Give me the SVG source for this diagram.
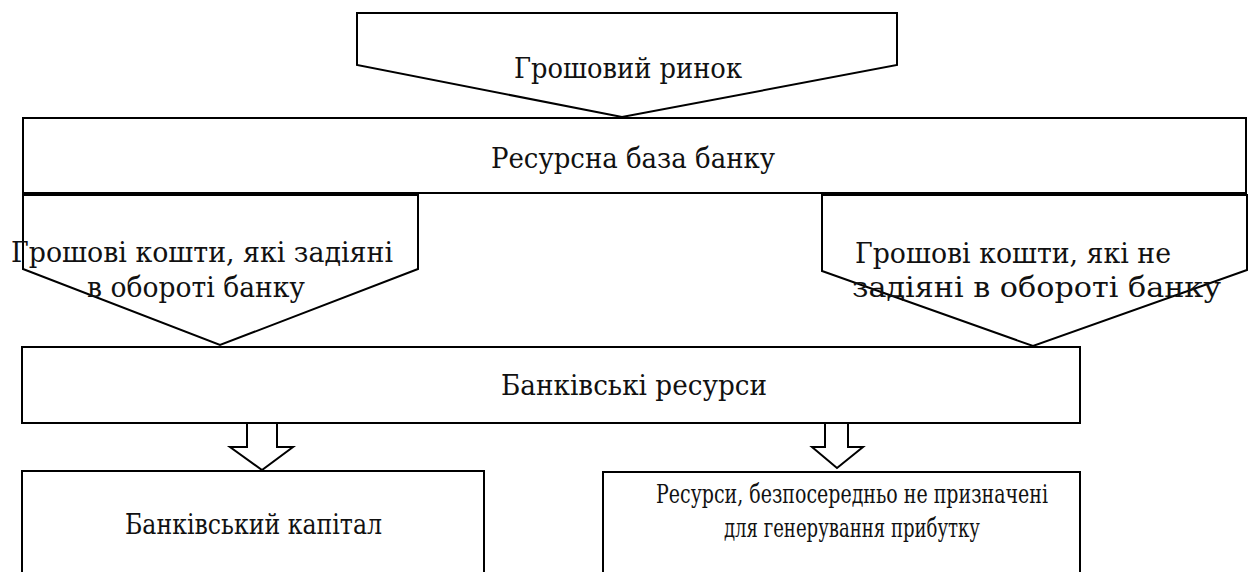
<svg xmlns="http://www.w3.org/2000/svg" width="1249" height="572" viewBox="0 0 1249 572">
<style>
.shape{fill:#fff;stroke:#000;stroke-width:2;stroke-linejoin:miter}
.arrow{fill:#fff;stroke:#000;stroke-width:2}
.t{font-family:'DejaVu Serif Condensed','DejaVu Serif',serif;font-stretch:condensed;font-size:27px;fill:#111}
.sm{font-family:'DejaVu Serif Condensed','DejaVu Serif',serif;font-stretch:condensed;font-size:26px;fill:#111;text-anchor:middle}
</style>
<rect width="1249" height="572" fill="#fff"/>
<g id="resource-base">
<rect class="shape" x="23" y="118" width="1223" height="75"/>
<text class="t" x="491" y="168" textLength="284" lengthAdjust="spacingAndGlyphs">Ресурсна база банку</text>
</g>
<g id="money-market">
<polygon class="shape" points="357,13 897,13 897,65 622,117 357,65"/>
<text class="t" x="514" y="78" textLength="228" lengthAdjust="spacingAndGlyphs">Грошовий ринок</text>
</g>
<g id="funds-in-turnover">
<polygon class="shape" points="23,195 418,195 418,269 220,345 23,269"/>
<text class="t" x="11" y="262" textLength="382" lengthAdjust="spacingAndGlyphs">Грошові кошти, які задіяні</text>
<text class="t" x="87" y="297" textLength="218" lengthAdjust="spacingAndGlyphs">в обороті банку</text>
</g>
<g id="funds-not-in-turnover">
<polygon class="shape" points="822,195 1247,195 1247,270 1033,346 822,271"/>
<text class="t" x="855" y="263" textLength="316" lengthAdjust="spacingAndGlyphs">Грошові кошти, які не</text>
<text class="t" x="852" y="297" textLength="369" lengthAdjust="spacingAndGlyphs">задіяні в обороті банку</text>
</g>
<g id="bank-resources">
<rect class="shape" x="22" y="347" width="1058" height="76"/>
<text class="t" x="501" y="395" textLength="266" lengthAdjust="spacingAndGlyphs">Банківські ресурси</text>
</g>
<g id="connectors">
<polygon class="arrow" points="247,423 277,423 277,447 293,447 262,470 230,447 247,447"/>
<polygon class="arrow" points="825,423 848,423 848,447 863,447 837,468 812,447 825,447"/>
</g>
<g id="bank-capital">
<rect class="shape" x="22" y="471" width="462" height="110"/>
<text class="t" x="125" y="534" textLength="257" lengthAdjust="spacingAndGlyphs">Банківський капітал</text>
</g>
<g id="non-profit-resources">
<rect class="shape" x="603" y="472" width="477" height="110"/>
<text class="sm" x="852" y="503" textLength="392" lengthAdjust="spacingAndGlyphs">Ресурси, безпосередньо не призначені</text>
<text class="sm" x="852" y="537" textLength="256" lengthAdjust="spacingAndGlyphs">для генерування прибутку</text>
</g>
</svg>
